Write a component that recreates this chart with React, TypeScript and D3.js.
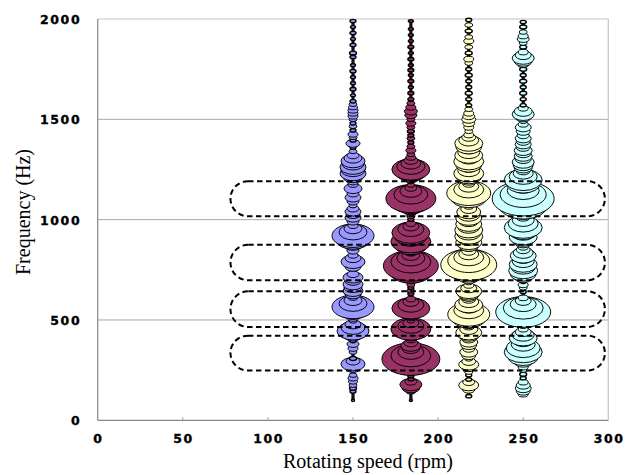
import React from 'react';
import * as d3 from 'd3';

// ---------- data ----------
const SPEEDS = [150, 184, 218, 250];
const FILLS = ['#9999ff', '#993366', '#ffffcc', '#ccffff'];

// [frequency (Hz), amplitude] drawn in ascending frequency order
const S150: [number, number][] = [
  [100, 1], [143, 3], [160, 3.5], [175, 4], [193, 4.5], [210, 5], [225, 4],
  [258, 7], [280, 12], [295, 7], [308, 3.5],
  [340, 4], [358, 5], [380, 6], [395, 3],
  [420, 9], [445, 16], [462, 12], [478, 8], [495, 4], [510, 6],
  [528, 9], [546, 15], [565, 21], [582, 14], [597, 9], [612, 5],
  [628, 8], [645, 10], [662, 9], [678, 10], [695, 8], [712, 10], [728, 6],
  [765, 8], [790, 12], [808, 8], [822, 5], [845, 6],
  [875, 10], [900, 17], [920, 21], [938, 14], [955, 9], [970, 5],
  [990, 6], [1010, 8], [1025, 7], [1040, 8], [1055, 6], [1070, 4],
  [1090, 6], [1110, 8], [1130, 6], [1155, 9], [1175, 5], [1190, 6],
  [1212, 10], [1230, 13], [1248, 12], [1262, 13], [1278, 11], [1292, 12], [1307, 9], [1320, 6],
  [1340, 4], [1360, 3], [1380, 7], [1395, 3], [1410, 4], [1425, 5], [1445, 3], [1465, 4], [1480, 3],
  [1500, 4], [1515, 5], [1530, 5], [1545, 5], [1560, 4.5], [1575, 4], [1590, 3],
  [1620, 2.5], [1650, 3], [1680, 2.5], [1710, 2.5], [1740, 3], [1770, 2.5], [1810, 3], [1830, 3.5],
  [1870, 3], [1900, 2.5], [1930, 3], [1960, 2.5], [1990, 3],
];

const S184: [number, number][] = [
  [100, 1.5],
  [145, 5], [162, 9], [178, 11], [192, 6], [205, 3], [220, 3], [232, 4],
  [255, 10], [280, 20], [305, 29], [322, 20], [340, 13], [358, 9], [372, 10], [386, 7],
  [400, 5], [412, 6],
  [430, 10], [455, 20], [470, 13], [484, 8], [496, 4], [510, 5],
  [533, 11], [558, 19], [575, 13], [590, 8], [604, 5],
  [630, 3], [645, 4], [660, 3], [675, 4], [690, 3],
  [715, 12], [745, 22], [770, 27.5], [790, 20], [808, 14], [822, 9], [835, 6],
  [850, 10], [870, 16], [890, 20], [906, 14], [920, 17], [935, 19], [952, 13], [966, 8], [980, 5],
  [1000, 3], [1015, 4], [1030, 5],
  [1050, 9], [1080, 18], [1105, 25], [1125, 17], [1142, 11], [1158, 6], [1172, 4], [1190, 4],
  [1210, 9], [1233, 15], [1250, 19], [1265, 14], [1280, 10], [1295, 7], [1310, 5], [1325, 4],
  [1345, 5], [1365, 4], [1385, 3], [1405, 4], [1420, 3], [1440, 3.5], [1460, 4], [1480, 5], [1500, 4],
  [1520, 6], [1540, 6.5], [1560, 5], [1580, 4], [1600, 3],
  [1630, 3], [1660, 2.5], [1690, 3], [1720, 2.5], [1745, 3], [1770, 2.5], [1800, 3], [1830, 2.5],
  [1860, 3], [1890, 2.5], [1920, 2.5], [1950, 2.5], [1990, 2.5],
];

const S218: [number, number][] = [
  [120, 3],
  [152, 6], [175, 10], [190, 6], [203, 3], [225, 3], [240, 4],
  [262, 7], [278, 10], [293, 7], [306, 4],
  [322, 7], [340, 9], [356, 6], [375, 8], [390, 9], [405, 7], [422, 10], [437, 13], [453, 9], [467, 6],
  [485, 10], [508, 17], [528, 21], [548, 15], [562, 10], [575, 14], [590, 10], [603, 7],
  [615, 8], [630, 11], [643, 13], [658, 8], [672, 5], [686, 4],
  [710, 10], [745, 20], [775, 28], [795, 21], [812, 15], [828, 10], [842, 7], [855, 5],
  [870, 10], [887, 13], [902, 11], [917, 14], [932, 12], [948, 14], [963, 11], [978, 13], [993, 10], [1008, 13],
  [1023, 11], [1038, 12], [1053, 8], [1066, 5],
  [1085, 9], [1110, 18], [1132, 22], [1150, 15], [1165, 10], [1178, 6],
  [1197, 9], [1215, 13], [1230, 15], [1245, 11], [1258, 8], [1273, 13], [1290, 15], [1305, 10], [1320, 14],
  [1335, 11], [1350, 8], [1364, 13], [1380, 14], [1395, 10], [1410, 7], [1422, 5],
  [1440, 4], [1460, 5], [1480, 6], [1500, 7], [1515, 6], [1530, 5], [1550, 4], [1570, 3],
  [1600, 3], [1630, 3.5], [1660, 3], [1690, 3], [1720, 3.5], [1750, 3], [1780, 4], [1800, 5],
  [1830, 3.5], [1860, 4], [1890, 5], [1910, 4], [1940, 3.5], [1970, 4], [1995, 3],
];

const S250: [number, number][] = [
  [130, 5], [145, 7], [160, 8], [175, 7], [190, 5], [210, 3], [230, 3.5], [250, 4], [265, 5],
  [290, 9], [315, 15], [340, 19], [360, 17], [378, 12], [395, 10], [410, 14], [425, 11], [440, 8], [454, 5],
  [468, 4], [482, 3],
  [500, 12], [520, 20], [540, 27.5], [560, 20], [578, 13], [595, 8], [610, 5],
  [640, 3], [660, 4], [675, 5], [690, 3],
  [712, 9], [730, 13], [746, 14.5], [762, 12], [777, 14], [792, 11], [807, 9], [820, 13], [835, 10], [850, 7], [862, 5],
  [882, 8], [898, 11], [913, 14], [928, 11], [943, 15], [960, 19], [980, 15], [997, 11], [1012, 7],
  [1040, 14], [1070, 24], [1105, 31], [1125, 23], [1145, 16], [1162, 11],
  [1180, 17], [1198, 19], [1215, 14], [1230, 10], [1243, 7],
  [1258, 9], [1272, 10], [1287, 11], [1302, 8], [1316, 9], [1331, 8], [1345, 9], [1360, 7], [1375, 8], [1390, 7],
  [1405, 8], [1420, 6], [1440, 7], [1460, 8], [1475, 5], [1490, 4],
  [1510, 8], [1525, 11], [1540, 9], [1555, 5], [1570, 3],
  [1600, 3], [1630, 3.5], [1660, 3], [1690, 3.5], [1720, 3], [1750, 3.5], [1775, 6], [1790, 9], [1805, 11],
  [1820, 8], [1835, 5], [1860, 3.5], [1880, 4], [1900, 6], [1915, 5], [1935, 4], [1960, 3.5], [1985, 3],
];

const SERIES = [S150, S184, S218, S250];

const BAND_LOW = [248, 465, 698, 1017];
const BAND_HIGH = [422, 643, 875, 1192];
const BAND_X = [78, 298];

const X_TICKS = [0, 50, 100, 150, 200, 250, 300];
const Y_TICKS = [0, 500, 1000, 1500, 2000];
const GRID_Y = [500, 1000, 1500];

// ---------- layout ----------
const W = 637;
const H = 475;
const M = { left: 97.7, top: 19, right: 637 - 608.3, bottom: 475 - 420.3 };

export default function App() {
  const x = d3.scaleLinear().domain([0, 300]).range([M.left, W - M.right]);
  const y = d3.scaleLinear().domain([0, 2000]).range([H - M.bottom, M.top]);
  const size = d3.scaleLinear().domain([0, 30]).range([0, 30]);
  const ASPECT = 0.56;

  const tickFont = {
    fontFamily: '"DejaVu Sans", Verdana, sans-serif',
    fontWeight: 700,
    fontSize: 12.5,
    letterSpacing: 1.6,
    stroke: '#000',
    strokeWidth: 0.35,
  } as const;

  return (
    <svg
      width={W}
      height={H}
      style={{ position: 'absolute', left: 0, top: 0, background: '#fff' }}
    >
      {/* grid lines */}
      {GRID_Y.map((t) => (
        <line key={'g' + t} x1={x(0)} x2={x(300)} y1={y(t)} y2={y(t)} stroke="#a8a8a8" strokeWidth={1} />
      ))}
      {/* frame */}
      <line x1={x(0)} x2={x(300)} y1={y(2000)} y2={y(2000)} stroke="#c4c4c4" strokeWidth={1.2} />
      <line x1={x(300)} x2={x(300)} y1={y(2000)} y2={y(0)} stroke="#c4c4c4" strokeWidth={1.2} />
      <line x1={x(0)} x2={x(0)} y1={y(2000)} y2={y(0)} stroke="#888" strokeWidth={1.2} />
      <line x1={x(0)} x2={x(300)} y1={y(0)} y2={y(0)} stroke="#888" strokeWidth={1.2} />
      {X_TICKS.slice(1, -1).map((t) => (
        <line key={'xt' + t} x1={x(t)} x2={x(t)} y1={y(0)} y2={y(0) - 3} stroke="#999" strokeWidth={1} />
      ))}

      {/* series */}
      {SERIES.map((s, i) => {
        const cx = x(SPEEDS[i]);
        const fExt = d3.extent(s, (d) => d[0]) as [number, number];
        return (
          <g key={'s' + i}>
            <line x1={cx} x2={cx} y1={y(fExt[0])} y2={y(fExt[1])} stroke="#111" strokeWidth={3.2} />
            {s.map(([f, a], j) => {
              const rx = Math.max(1.5, size(a));
              return (
                <ellipse
                  key={j}
                  cx={cx}
                  cy={y(f)}
                  rx={rx}
                  ry={Math.max(1.3, rx * ASPECT)}
                  fill={FILLS[i]}
                  stroke="#000"
                  strokeWidth={a <= 3.5 ? 1.4 : 0.95}
                />
              );
            })}
          </g>
        );
      })}

      {/* dashed bands */}
      {BAND_LOW.map((lo, i) => {
        const top = y(BAND_HIGH[i]);
        const h = y(lo) - top;
        return (
          <rect
            key={'b' + i}
            x={x(BAND_X[0])}
            y={top}
            width={x(BAND_X[1]) - x(BAND_X[0])}
            height={h}
            rx={h / 2}
            ry={h / 2}
            fill="none"
            stroke="#000"
            strokeWidth={2}
            strokeDasharray="5.5 3.5"
          />
        );
      })}

      {/* tick labels */}
      {Y_TICKS.map((t) => (
        <text key={'yl' + t} x={x(0) - 16.5} y={y(t) + 5} textAnchor="end" {...tickFont}>
          {t}
        </text>
      ))}
      {X_TICKS.map((t) => (
        <text key={'xl' + t} x={x(t) + 0.8} y={442.5} textAnchor="middle" {...tickFont}>
          {t}
        </text>
      ))}

      {/* axis titles */}
      <text
        x={368}
        y={468}
        textAnchor="middle"
        fontFamily='"Liberation Serif", "Times New Roman", serif'
        fontSize={20}
      >
        Rotating speed (rpm)
      </text>
      <text
        transform={`translate(30, 212) rotate(-90)`}
        textAnchor="middle"
        fontFamily='"Liberation Serif", "Times New Roman", serif'
        fontSize={20}
      >
        Frequency (Hz)
      </text>
    </svg>
  );
}
